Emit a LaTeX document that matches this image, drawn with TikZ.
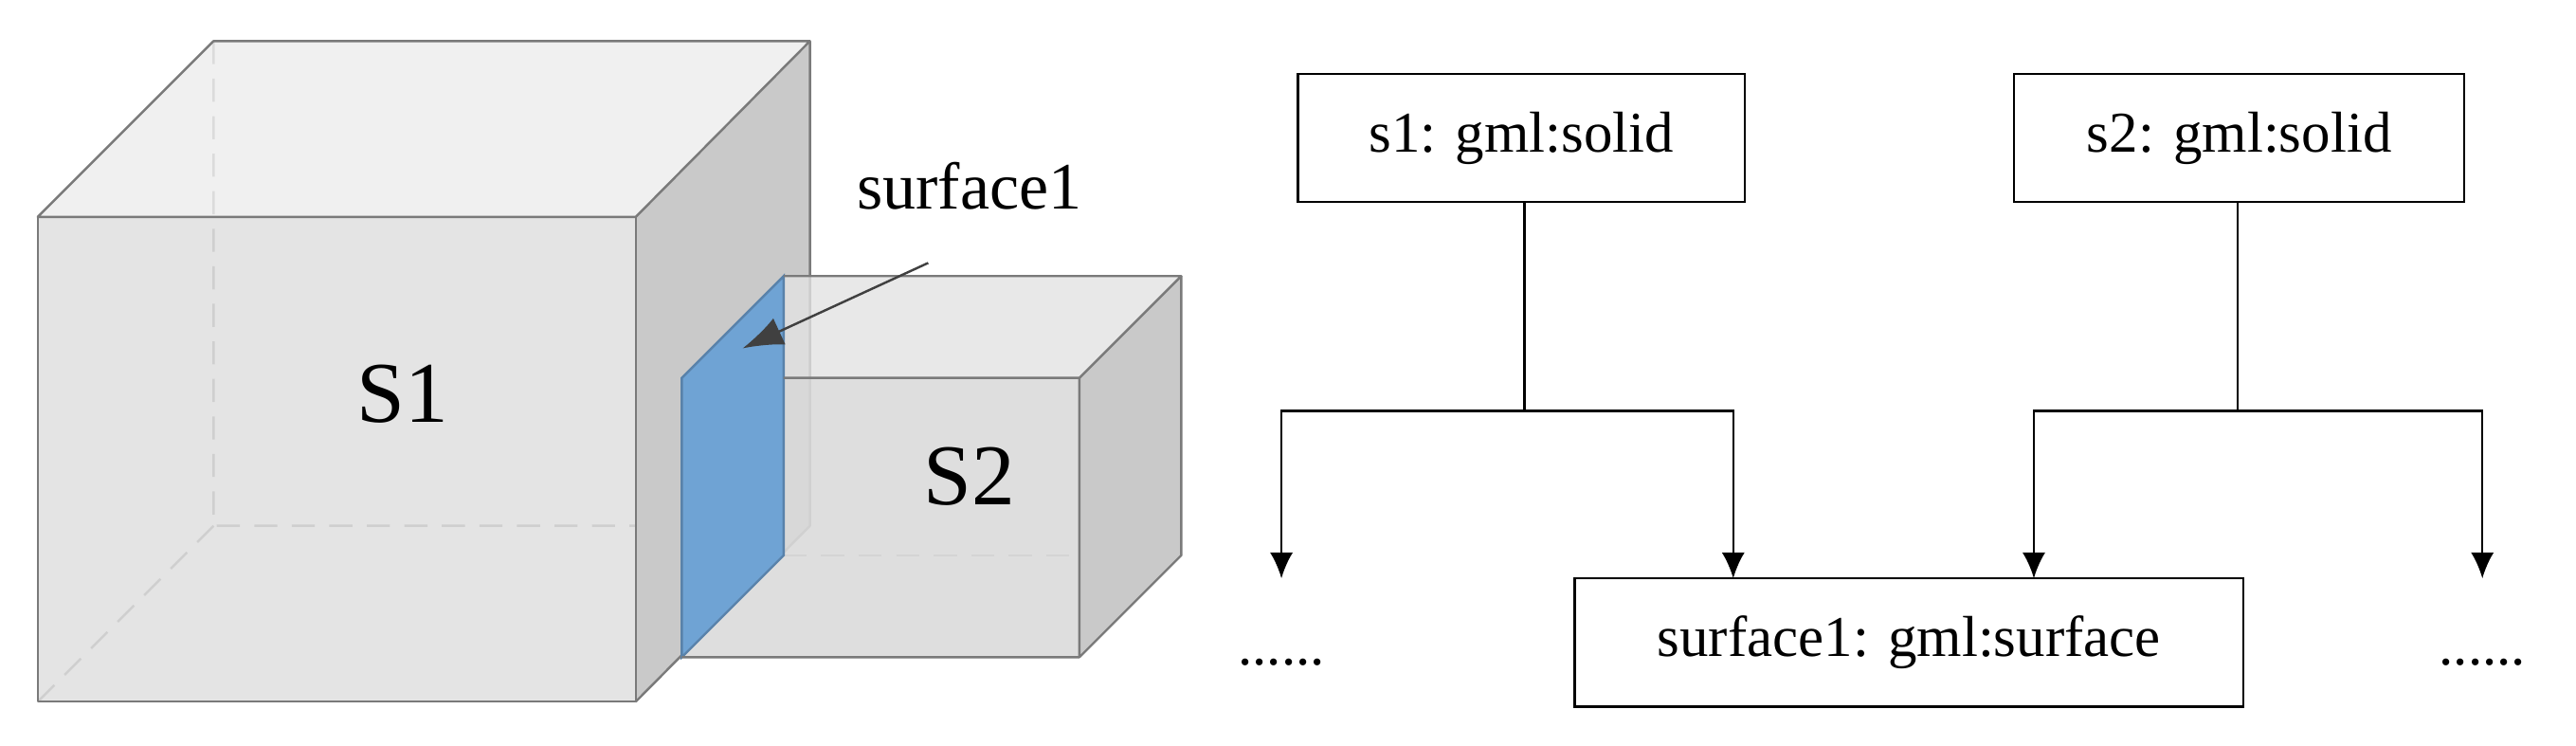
\documentclass[tikz,border=0pt]{standalone}
\usepackage{fontspec}
\setmainfont{Liberation Serif}
\usetikzlibrary{arrows.meta}
\definecolor{edgegray}{HTML}{7A7A7A}
\definecolor{frontgray}{HTML}{DFDFDF}
\definecolor{topgray}{HTML}{EDEDED}
\definecolor{sidegray}{HTML}{C9C9C9}
\definecolor{faceblue}{HTML}{6FA3D4}
\tikzset{%
  % Specifications for style of nodes:
         base/.style = {rectangle, draw = black, thick, minimum height=1.56cm, font=\fontsize{20}{24}\selectfont},
         face/.style = {draw=edgegray, thick, line join=round},
         hidden/.style = {edgegray, thick, dashed, dash pattern=on 8pt off 5pt},
         link/.style = {-{Latex[length=9pt,width=8pt]}, thick},
}
\begin{document}
\begin{tikzpicture}[x=0.02cm, y=-0.02cm]
    \useasboundingbox (0,0) rectangle (1568,454);
    % Draw cube s1
    \draw[hidden] (130,25) -- (130,320) -- (493,320) (130,320) -- (23,427);
    \fill[topgray, opacity=0.85] (23,132) -- (130,25) -- (493,25) -- (387,132) -- cycle;
    \fill[frontgray, opacity=0.85] (23,132) rectangle (387,427);
    \fill[sidegray] (387,132) -- (493,25) -- (493,320) -- (387,427) -- cycle;
    \draw[face] (23,132) -- (130,25) -- (493,25) -- (387,132) -- cycle;
    \draw[face] (23,132) rectangle (387,427);
    \draw[face] (493,25) -- (493,320) -- (387,427);

    % Draw cube s2
    \draw[hidden, edgegray!70] (477,338) -- (719,338);
    \fill[topgray!90!gray, opacity=0.8] (415,230) -- (477,168) -- (719,168) -- (657,230) -- cycle;
    \fill[frontgray!95!gray, opacity=0.9] (415,230) rectangle (657,400);
    \fill[sidegray] (657,230) -- (719,168) -- (719,338) -- (657,400) -- cycle;
    \fill[faceblue] (415,230) -- (477,168) -- (477,338) -- (415,400) -- cycle;
    \draw[faceblue!80!black, thick] (415,230) -- (477,168) -- (477,338) -- (415,400) -- cycle;
    \draw[face] (477,168) -- (719,168) -- (657,230) -- (477,230);
    \draw[face] (415,400) -- (657,400) -- (657,230) (719,168) -- (719,338) -- (657,400);

    % Labels of the cubes
    \node (s1lab) at (245,240) {\fontsize{30}{36}\selectfont S1};
    \node (s2lab) at (590,290) {\fontsize{30}{36}\selectfont S2};
    \node (surflab) at (590,113) {\fontsize{23}{28}\selectfont surface1};
    \coordinate (surfpt) at (452,212);
    \draw[-{Latex[length=14pt,width=10pt]}, thick, black!75] (565,160) -- (surfpt);

    % Draw nodes
    \node (solid1)   [base, minimum width=5.44cm] at (926,84)  {s1: gml:solid};
    \node (solid2)   [base, minimum width=5.48cm] at (1363,84) {s2: gml:solid};
    \node (surface)  [base, minimum width=8.14cm] at (1162,391) {surface1: gml:surface};
    \node (dotsl)    [font=\fontsize{20}{24}\selectfont] at (780,403) {......};
    \node (dotsr)    [font=\fontsize{20}{24}\selectfont] at (1511,403) {......};

    % Draw arrows
    \coordinate (fork1) at (928,250);
    \coordinate (fork2) at (1362,250);
    \coordinate (in1) at (1055,352);
    \coordinate (in2) at (1238,352);
    \draw[thick] (solid1.south -| fork1) -- (fork1);
    \draw[thick] (solid2.south -| fork2) -- (fork2);
    \draw[link] (fork1) -- (780,250) -- (780,352);
    \draw[link] (fork1) -- (1055,250) -- (in1);
    \draw[link] (fork2) -- (1238,250) -- (in2);
    \draw[link] (fork2) -- (1511,250) -- (1511,352);
\end{tikzpicture}
\end{document}
